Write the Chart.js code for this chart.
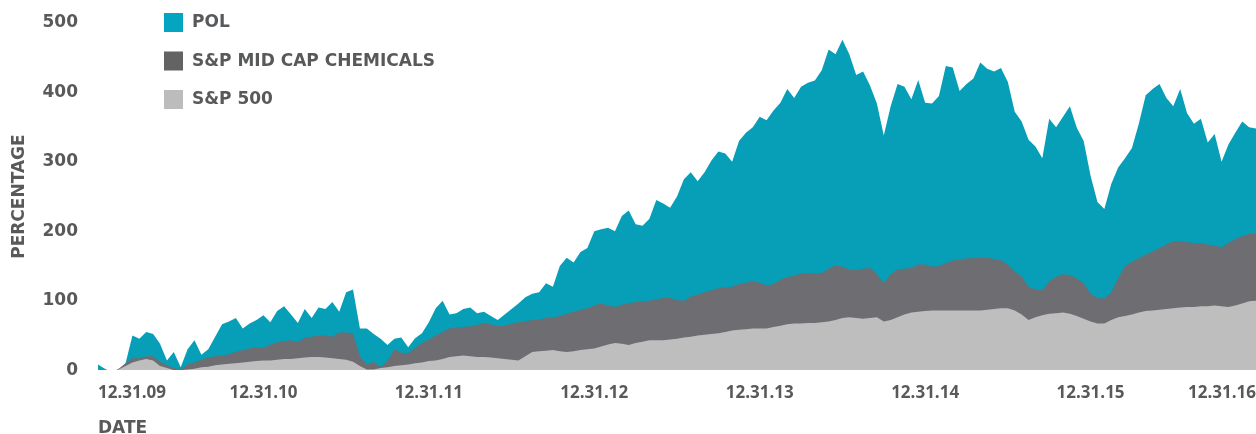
<!DOCTYPE html>
<html>
<head>
<meta charset="utf-8">
<script src="https://cdn.jsdelivr.net/npm/chart.js@4.4.0/dist/chart.umd.min.js"></script>
<style>
html, body { margin: 0; padding: 0; background: #fff; }
</style>
</head>
<body>
<canvas id="chartContainer" width="1256" height="434"></canvas>
<script>
// half-month steps from 12.31.09 to 12.31.16, cumulative return in %
const yearLabels = ['12.31.09', '12.31.10', '12.31.11', '12.31.12', '12.31.13', '12.31.14', '12.31.15', '12.31.16'];
const stepsPerYear = 24;

const pol = [
    8, 2, -3, -2, 10, 50, 45, 55, 52, 38, 14, 26,
    4, 30, 43, 22, 30, 48, 66, 70, 75, 60, 67, 72,
    79, 69, 85, 92, 80, 68, 88, 75, 90, 88, 98, 84,
    112, 116, 60, 60, 52, 45, 36, 45, 47, 33, 46, 53,
    69, 89, 100, 80, 82, 88, 90, 82, 84, 78, 72, 80,
    88, 96, 105, 110, 112, 125, 120, 150, 162, 155, 170, 176,
    200, 203, 205, 200, 222, 230, 210, 208, 218, 245, 240, 234,
    250, 275, 285, 272, 285, 302, 315, 312, 300, 330, 342, 350,
    365, 360, 374, 385, 405, 392, 408, 414, 417, 432, 462, 455,
    476, 455, 425, 430, 410, 384, 338, 380, 412, 408, 390, 418,
    385, 384, 395, 438, 436, 402, 412, 420, 443, 434, 430, 435,
    415, 372, 358, 332, 322, 305, 362, 350, 365, 380, 349, 330,
    280, 242, 232, 268, 292, 305, 320, 355, 396, 405, 412, 392,
    380, 405, 370, 355, 362, 328, 340, 300, 325, 342, 358, 350,
    348
];

const chemicals = [
    0, -2, -3, 2, 10, 17, 17, 20, 20, 12, 7, 3,
    1, 8, 11, 15, 18, 20, 21, 23, 26, 29, 31, 33,
    32, 37, 40, 42, 43, 40, 47, 48, 50, 50, 48, 54,
    54, 53, 20, 8, 12, 5, 13, 30, 25, 24, 32, 39,
    44, 50, 55, 60, 62, 62, 63, 65, 68, 66, 63, 64,
    67, 69, 70, 72, 73, 75, 76, 78, 81, 84, 87, 89,
    93, 96, 93, 91, 94, 96, 98, 99, 100, 102, 104, 104,
    101, 100, 106, 109, 112, 115, 118, 119, 120, 124, 126, 128,
    126, 122, 124, 130, 134, 136, 139, 139, 139, 140, 146, 151,
    149, 145, 144, 146, 147, 138, 125, 138, 145, 146, 147, 152,
    152, 149, 150, 154, 158, 159, 161, 161, 162, 162, 160, 158,
    152, 142, 135, 120, 116, 115, 128, 134, 138, 137, 132, 125,
    110, 104, 103, 112, 132, 150, 156, 161, 166, 171, 176, 181,
    186, 186, 184, 183, 183, 181, 179, 177, 183, 189, 193, 196,
    197
];

const sp500 = [
    0, -1, -2, 1, 6, 11, 14, 16, 14, 6, 3, 0,
    0, 1, 2, 4, 5, 7, 8, 9, 10, 11, 12, 13,
    14, 14, 15, 16, 16, 17, 18, 19, 19, 18, 17, 16,
    15, 12, 6, 1, 1, 3, 4, 6, 7, 8, 10, 11,
    13, 14, 16, 19, 20, 21, 20, 19, 19, 18, 17, 16,
    15, 14, 20, 26, 27, 28, 29, 27, 26, 27, 29, 30,
    31, 34, 37, 39, 38, 36, 39, 41, 43, 43, 43, 44,
    45, 47, 48, 50, 51, 52, 53, 55, 57, 58, 59, 60,
    60, 60, 62, 64, 66, 67, 67, 68, 68, 69, 70, 72,
    75, 76, 75, 74, 75, 76, 70, 72, 76, 80, 83, 84,
    85, 86, 86, 86, 86, 86, 86, 86, 86, 87, 88, 89,
    89, 86, 80, 72, 76, 79, 81, 82, 83, 81, 78, 74,
    70, 67, 67, 72, 76, 78, 80, 83, 85, 86, 87, 88,
    89, 90, 91, 91, 92, 92, 93, 92, 91, 93, 96, 99,
    100
];

const seriesNames = ['POL', 'S&P MID CAP CHEMICALS', 'S&P 500'];
const seriesColors = ['#069fb7', '#6e6d71', '#bfbebf'];
const legendColors = ['#04a5c0', '#636363', '#bdbcbd'];

const textColor = '#58595b';
const boldFont = { family: "'DejaVu Sans', sans-serif", weight: 'bold', size: 17 };

function toPoints(values) {
    return values.map((v, i) => ({ x: i, y: v }));
}

// legend drawn as stacked boxes in the upper left of the plot
const boxLegend = {
    id: 'boxLegend',
    afterDraw(chart) {
        const ctx = chart.ctx;
        ctx.save();
        ctx.font = "bold 17px 'DejaVu Sans', sans-serif";
        ctx.textBaseline = 'middle';
        seriesNames.forEach((name, i) => {
            const top = 13 + i * 38.5;
            ctx.fillStyle = legendColors[i];
            ctx.fillRect(164, top, 19, 19);
            ctx.fillStyle = textColor;
            ctx.fillText(name, 192, top + 10);
        });
        ctx.restore();
    }
};

const canvas_one = document.getElementById('chartContainer');
const ctx_one = canvas_one.getContext('2d');

let chart_one = new Chart(ctx_one, {
    type: 'line',
    data: {
        datasets: [
            { label: seriesNames[0], data: toPoints(pol), backgroundColor: seriesColors[0], order: 3 },
            { label: seriesNames[1], data: toPoints(chemicals), backgroundColor: seriesColors[1], order: 2 },
            { label: seriesNames[2], data: toPoints(sp500), backgroundColor: seriesColors[2], order: 1 }
        ].map(ds => Object.assign(ds, {
            fill: 'origin',
            borderWidth: 0,
            borderColor: 'transparent',
            pointRadius: 0,
            tension: 0
        }))
    },
    options: {
        responsive: false,
        animation: false,
        layout: { padding: { top: 23, right: 0, bottom: 0, left: 0 } },
        plugins: {
            legend: { display: false },
            tooltip: { enabled: false }
        },
        scales: {
            x: {
                type: 'linear',
                min: 0,
                max: (yearLabels.length - 1) * stepsPerYear,
                grid: { display: false, drawTicks: false },
                border: { display: false },
                afterBuildTicks: scale => {
                    scale.ticks = yearLabels.map((_, i) => ({ value: i * stepsPerYear }));
                },
                ticks: {
                    align: 'inner',
                    maxRotation: 0,
                    autoSkip: false,
                    padding: 0,
                    color: textColor,
                    font: { family: "'Open Sans', sans-serif", weight: 'bold', size: 17, lineHeight: 2.7 },
                    callback: v => yearLabels[Math.round(v / stepsPerYear)]
                },
                title: {
                    display: true,
                    text: 'DATE',
                    align: 'start',
                    color: textColor,
                    font: Object.assign({}, boldFont, { lineHeight: 1 }),
                    padding: { top: 4, bottom: -3 }
                }
            },
            y: {
                min: 0,
                max: 500,
                grid: { display: false, drawTicks: false },
                border: { display: false },
                ticks: {
                    stepSize: 100,
                    padding: 20,
                    color: textColor,
                    font: Object.assign({}, boldFont, { lineHeight: 0.2 })
                },
                title: {
                    display: true,
                    text: 'PERCENTAGE',
                    color: textColor,
                    font: Object.assign({}, boldFont, { lineHeight: 1 }),
                    padding: { top: 11.5, bottom: -6 }
                }
            }
        }
    },
    plugins: [boxLegend]
});
</script>
</body>
</html>
